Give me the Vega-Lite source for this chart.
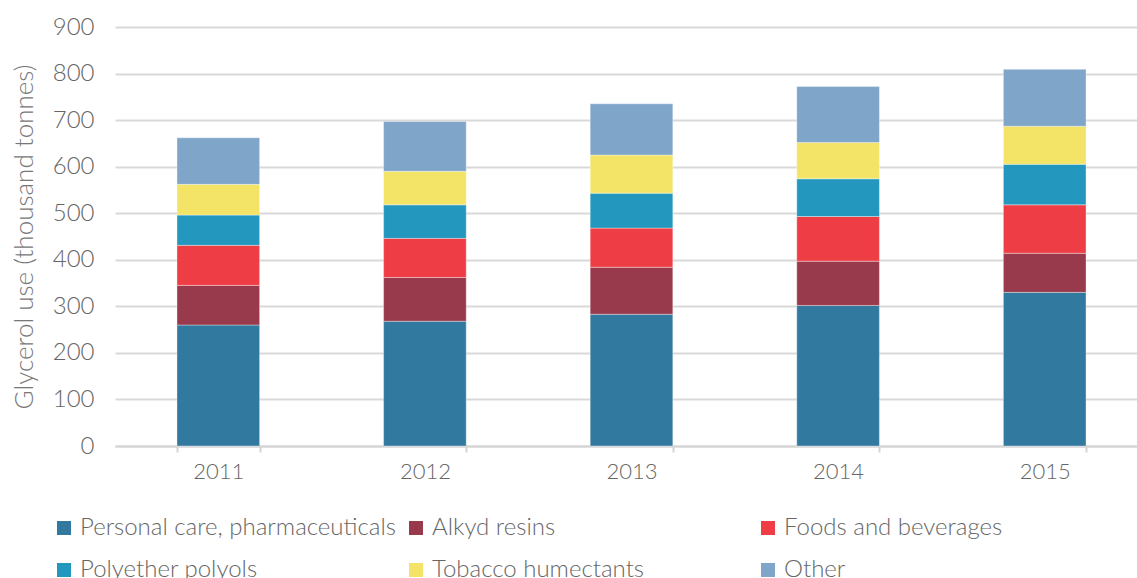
{
  "$schema": "https://vega.github.io/schema/vega-lite/v6.json",
  "autosize": {"type": "none"},
  "width": 1022,
  "height": 419,
  "padding": {"left": 115, "top": 27, "right": 0, "bottom": 132},
  "background": "#ffffff",
  "config": {
    "view": {"stroke": null},
    "font": "Lato",
    "axis": {"labelFont": "Lato", "titleFont": "Lato", "labelFontWeight": 300, "titleFontWeight": 300, "labelColor": "#666666", "titleColor": "#777777"},
    "legend": {"labelFont": "Lato", "labelFontWeight": 300, "labelColor": "#666666"}
  },
  "data": {
    "values": [
      {"year": "2011", "use": "Personal care, pharmaceuticals", "k": 1, "value": 260},
      {"year": "2011", "use": "Alkyd resins", "k": 2, "value": 85},
      {"year": "2011", "use": "Foods and beverages", "k": 3, "value": 86},
      {"year": "2011", "use": "Polyether polyols", "k": 4, "value": 65},
      {"year": "2011", "use": "Tobacco humectants", "k": 5, "value": 66},
      {"year": "2011", "use": "Other", "k": 6, "value": 100},
      {"year": "2012", "use": "Personal care, pharmaceuticals", "k": 1, "value": 268},
      {"year": "2012", "use": "Alkyd resins", "k": 2, "value": 94},
      {"year": "2012", "use": "Foods and beverages", "k": 3, "value": 84},
      {"year": "2012", "use": "Polyether polyols", "k": 4, "value": 72},
      {"year": "2012", "use": "Tobacco humectants", "k": 5, "value": 72},
      {"year": "2012", "use": "Other", "k": 6, "value": 107},
      {"year": "2013", "use": "Personal care, pharmaceuticals", "k": 1, "value": 283},
      {"year": "2013", "use": "Alkyd resins", "k": 2, "value": 101},
      {"year": "2013", "use": "Foods and beverages", "k": 3, "value": 84},
      {"year": "2013", "use": "Polyether polyols", "k": 4, "value": 75},
      {"year": "2013", "use": "Tobacco humectants", "k": 5, "value": 82},
      {"year": "2013", "use": "Other", "k": 6, "value": 110},
      {"year": "2014", "use": "Personal care, pharmaceuticals", "k": 1, "value": 302},
      {"year": "2014", "use": "Alkyd resins", "k": 2, "value": 95},
      {"year": "2014", "use": "Foods and beverages", "k": 3, "value": 96},
      {"year": "2014", "use": "Polyether polyols", "k": 4, "value": 81},
      {"year": "2014", "use": "Tobacco humectants", "k": 5, "value": 78},
      {"year": "2014", "use": "Other", "k": 6, "value": 120},
      {"year": "2015", "use": "Personal care, pharmaceuticals", "k": 1, "value": 330},
      {"year": "2015", "use": "Alkyd resins", "k": 2, "value": 84},
      {"year": "2015", "use": "Foods and beverages", "k": 3, "value": 104},
      {"year": "2015", "use": "Polyether polyols", "k": 4, "value": 87},
      {"year": "2015", "use": "Tobacco humectants", "k": 5, "value": 82},
      {"year": "2015", "use": "Other", "k": 6, "value": 122}
    ]
  },
  "mark": {"type": "bar", "stroke": "#ffffff", "strokeWidth": 0.6, "strokeOpacity": 0.6},
  "encoding": {
    "x": {
      "field": "year", "type": "nominal",
      "scale": {"range": [0, 1033], "paddingInner": 0.6, "paddingOuter": 0.3},
      "axis": {
        "title": null, "labelAngle": 0, "labelFontSize": 22, "labelPadding": 9,
        "domainColor": "#d4d4d4", "domainWidth": 2, "tickColor": "#d4d4d4", "tickWidth": 2, "tickSize": 6,
        "tickBand": "extent", "grid": false
      }
    },
    "y": {
      "field": "value", "type": "quantitative", "aggregate": "sum",
      "scale": {"domain": [0, 900], "nice": false},
      "axis": {
        "title": "Glycerol use (thousand tonnes)", "titleFontSize": 26, "titlePadding": 15,
        "values": [0, 100, 200, 300, 400, 500, 600, 700, 800, 900],
        "labelFontSize": 24, "labelPadding": 21, "domain": false, "ticks": false,
        "grid": true, "gridColor": "#d9d9d9", "gridWidth": 2
      }
    },
    "color": {
      "field": "use", "type": "nominal",
      "sort": ["Personal care, pharmaceuticals", "Alkyd resins", "Foods and beverages", "Polyether polyols", "Tobacco humectants", "Other"],
      "scale": {
        "domain": ["Personal care, pharmaceuticals", "Alkyd resins", "Foods and beverages", "Polyether polyols", "Tobacco humectants", "Other"],
        "range": ["#32799f", "#983a4b", "#ef3d45", "#2397bd", "#f3e467", "#7fa5c8"]
      },
      "legend": {
        "title": null, "orient": "none", "legendX": -63, "legendY": 489,
        "direction": "horizontal", "columns": 3, "gridAlign": "all", "columnPadding": 8,
        "rowPadding": 18, "labelFontSize": 24, "labelLimit": 500, "symbolType": "square", "symbolSize": 196,
        "symbolStrokeWidth": 0, "symbolOffset": 0, "labelOffset": 4
      }
    },
    "order": {"field": "k", "type": "quantitative", "sort": "ascending"}
  }
}
